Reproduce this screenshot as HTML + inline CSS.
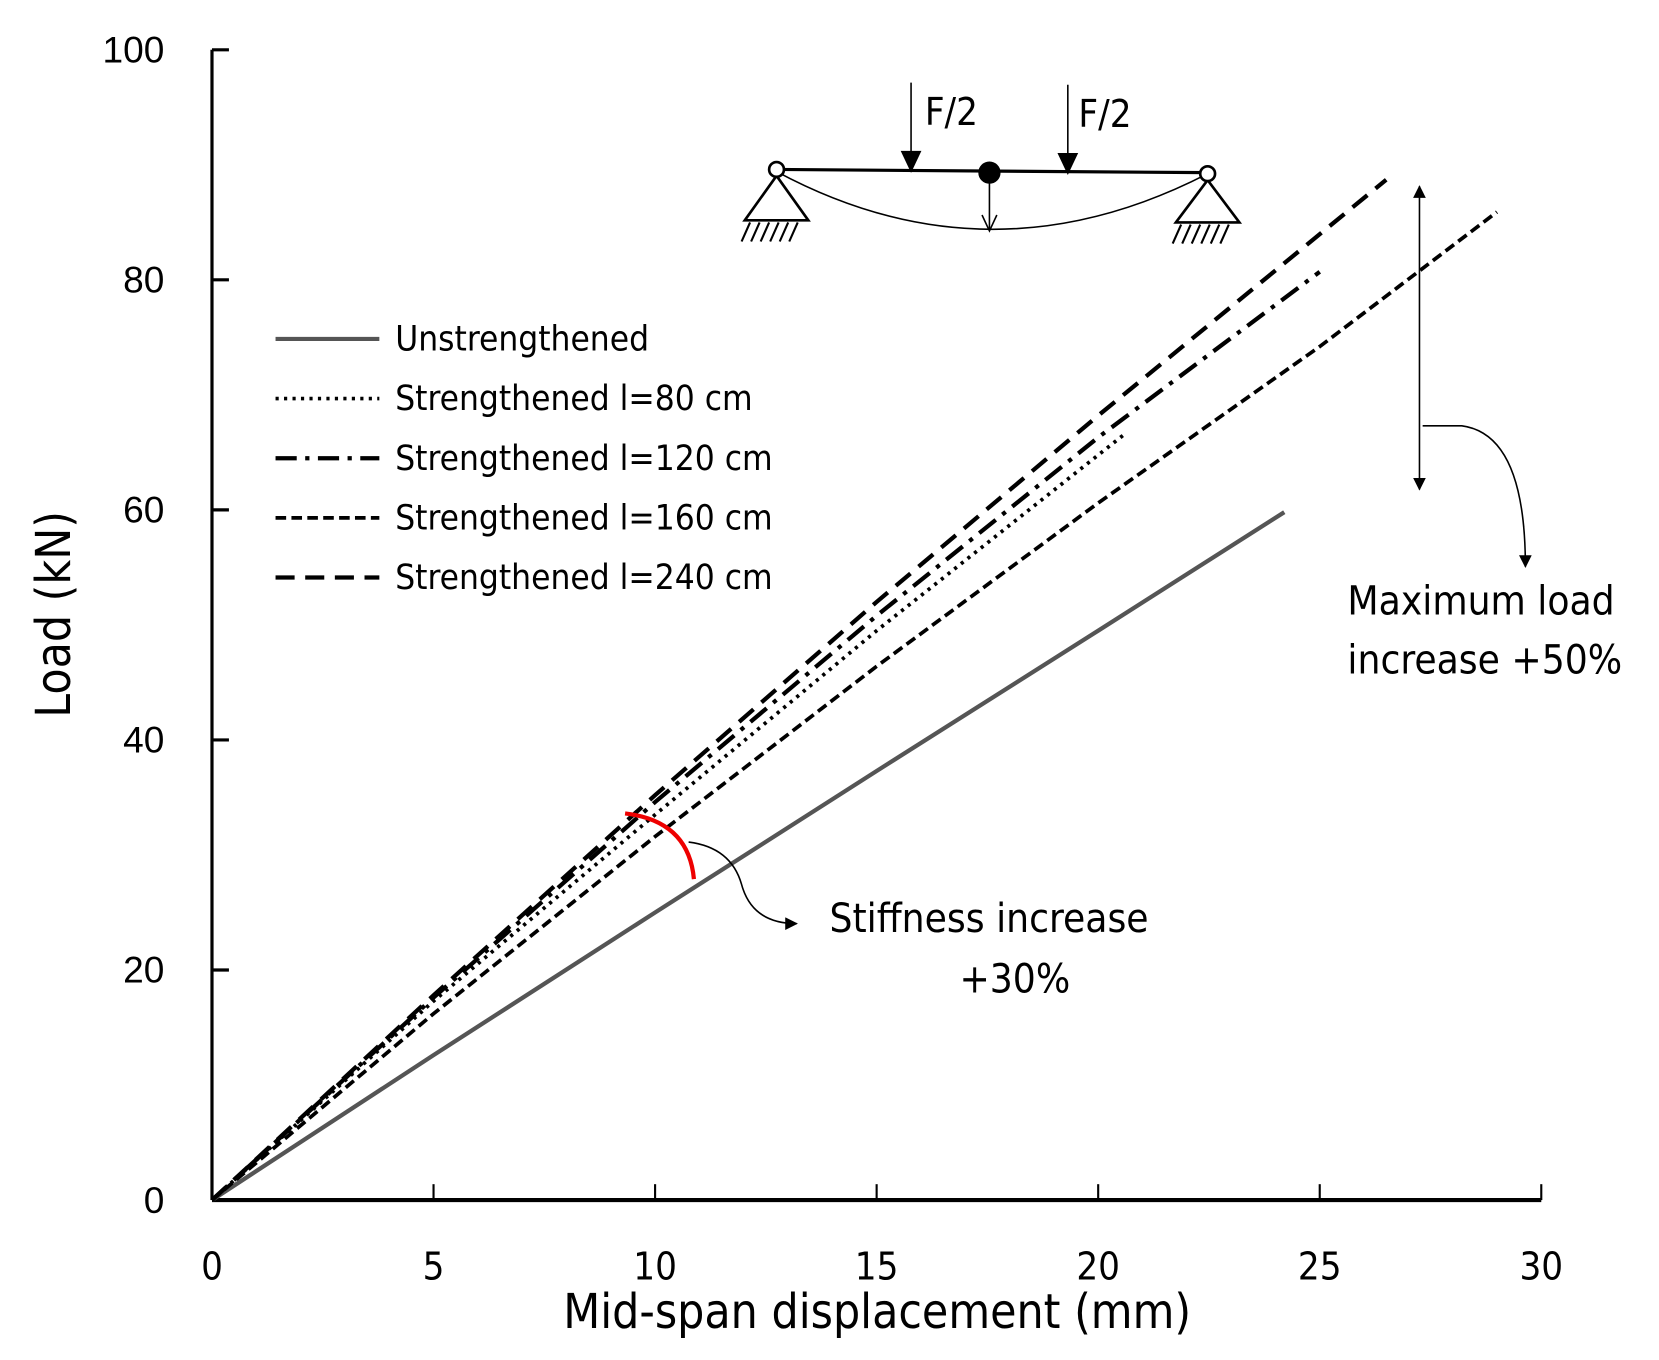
<!DOCTYPE html>
<html><head><meta charset="utf-8"><style>
html,body{margin:0;padding:0;background:#fff}
svg{display:block}
text{font-family:"DejaVu Sans Condensed","Liberation Sans Narrow","Liberation Sans",sans-serif;fill:#000}
</style></head><body>
<svg id="chart" width="1659" height="1360" viewBox="0 0 1566 1284" xmlns="http://www.w3.org/2000/svg">
<defs>
<marker id="ah" viewBox="0 0 10 10" refX="9" refY="5" markerWidth="8" markerHeight="8" orient="auto-start-reverse"><path d="M0,0 L10,5 L0,10 z" fill="#000"/></marker>
</defs>
<g id="axes"></g>
<g id="series"></g>
<g stroke="#000" fill="none">
  <line x1="733" y1="160" x2="1140" y2="163" stroke-width="3"/>
  <path d="M733,162 Q934,270 1140,164" stroke-width="1.5"/>
  <line x1="860" y1="78" x2="860" y2="150" stroke-width="1.5"/>
  <path d="M851,143 L869,143 L860,162 z" fill="#000"/>
  <line x1="1008" y1="80" x2="1008" y2="152" stroke-width="1.5"/>
  <path d="M999,145 L1017,145 L1008,164 z" fill="#000"/>
  <line x1="934" y1="165" x2="934" y2="218" stroke-width="1.5"/>
  <path d="M927,203 L934,218 L941,203" stroke-width="1.5"/>
  <circle cx="934" cy="163" r="10" fill="#000"/>
  <path d="M733,166 L703,208 L763,208 z" stroke-width="2.5" fill="#fff"/>
  <path d="M1140,170 L1110,210 L1170,210 z" stroke-width="2.5" fill="#fff"/>
  <path d="M708,210 l-8,18 M717,210 l-8,18 M726,210 l-8,18 M735,210 l-8,18 M744,210 l-8,18 M753,210 l-8,18" stroke-width="2"/>
  <path d="M1115,212 l-8,18 M1124,212 l-8,18 M1133,212 l-8,18 M1142,212 l-8,18 M1151,212 l-8,18 M1160,212 l-8,18" stroke-width="2"/>
  <circle cx="733" cy="160" r="7" fill="#fff" stroke-width="2.5"/>
  <circle cx="1140" cy="164" r="7" fill="#fff" stroke-width="2.5"/>
</g>
<text x="873" y="118" font-size="36">F/2</text>
<text x="1018" y="120" font-size="36">F/2</text>
<g stroke="#000" fill="none" stroke-width="1.5">
  <line x1="1340" y1="176" x2="1340" y2="462" marker-start="url(#ah)" marker-end="url(#ah)"/>
  <path d="M1343,402 L1380,402 Q1440,410 1440,535" marker-end="url(#ah)"/>
</g>
<text x="1272" y="580" font-size="38">Maximum load</text>
<text x="1272" y="636" font-size="38">increase +50%</text>
<path d="M590,768 Q650,775 655,830" stroke="#e00" stroke-width="4" fill="none"/>
<path d="M650,795 Q690,800 700,835 Q710,872 752,872" stroke="#000" stroke-width="1.5" fill="none" marker-end="url(#ah)"/>
<text x="783" y="880" font-size="38">Stiffness increase</text>
<text x="958" y="937" font-size="38" text-anchor="middle">+30%</text>
<g id="legend"></g>
<text x="828" y="1254" font-size="45" text-anchor="middle">Mid-span displacement (mm)</text>
<text transform="translate(66,580) rotate(-90)" font-size="45" text-anchor="middle">Load  (kN)</text>
</svg>
<script>
const xTicks=[0,5,10,15,20,25,30];
const yTicks=[0,20,40,60,80,100];
const seriesNames=["Unstrengthened","Strengthened l=80 cm","Strengthened l=120 cm","Strengthened l=160 cm","Strengthened l=240 cm"];
const unstrX=[0,5,10,15,20,24.2];
const unstrY=[0,12.6,25.0,37.3,49.5,59.8];
const s80X=[0,5,10,15,20.6];
const s80Y=[0,17.3,33.5,49.5,66.6];
const s120X=[0,5,10,15,20,25.0];
const s120Y=[0,17.6,34.6,50.8,66.3,80.7];
const s160X=[0,5,10,15,20,25,29.0];
const s160Y=[0,16.2,31.6,46.4,60.6,74.2,85.9];
const s240X=[0,5,10,15,20,26.5];
const s240Y=[0,17.8,35.2,52.0,68.2,88.7];
const X=v=>200+v*1255/30;
const Y=v=>1133-v*10.86;
const NS="http://www.w3.org/2000/svg";
function mk(tag,parent){const e=document.createElementNS(NS,tag);parent.appendChild(e);return e;}
const axes=document.getElementById('axes');
let a=mk('line',axes);


a.setAttribute('x1',X(0));a.setAttribute('x2',X(0));a.setAttribute('y1',Y(100));a.setAttribute('y2',Y(0));a.setAttribute('stroke','#000');a.setAttribute('stroke-width','3');
a=mk('line',axes);


a.setAttribute('x1',X(0));a.setAttribute('x2',X(30));a.setAttribute('y1',Y(0));a.setAttribute('y2',Y(0));a.setAttribute('stroke','#000');a.setAttribute('stroke-width','4');
yTicks.forEach(v=>{
  const t=mk('line',axes);
  
  
  t.setAttribute('x1',X(0));t.setAttribute('x2',X(0)+16);t.setAttribute('y1',Y(v));t.setAttribute('y2',Y(v));t.setAttribute('stroke','#000');t.setAttribute('stroke-width','3');
  const l=mk('text',axes);
  
  
  l.setAttribute('x',155);l.setAttribute('y',Y(v)+12);l.setAttribute('text-anchor','end');l.setAttribute('font-size','35');l.setAttribute('style','font-family:"Liberation Sans",sans-serif');
  l.textContent=v;
});
xTicks.forEach(v=>{
  const t=mk('line',axes);
  
  
  t.setAttribute('x1',X(v));t.setAttribute('x2',X(v));t.setAttribute('y1',Y(0));t.setAttribute('y2',Y(0)-15);t.setAttribute('stroke','#000');t.setAttribute('stroke-width','2');
  const l=mk('text',axes);
  
  
  l.setAttribute('x',X(v));l.setAttribute('y',1208);l.setAttribute('text-anchor','middle');l.setAttribute('font-size','36');
  l.textContent=v;
});
const styles=[
  {c:'#555',w:4,d:''},
  {c:'#000',w:3.5,d:'3,5'},
  {c:'#000',w:4,d:'20,8,4,8'},
  {c:'#000',w:3.5,d:'10,5'},
  {c:'#000',w:4,d:'18,10'}
];
const data=[[unstrX,unstrY],[s80X,s80Y],[s120X,s120Y],[s160X,s160Y],[s240X,s240Y]];
const keys=['unstrengthened','l80','l120','l160','l240'];
const sg=document.getElementById('series');
data.forEach((d,i)=>{
  const p=mk('polyline',sg);
  
  
  p.setAttribute('points',d[0].map((x,j)=>X(x)+','+Y(d[1][j])).join(' '));
  p.setAttribute('fill','none');p.setAttribute('stroke',styles[i].c);p.setAttribute('stroke-width',styles[i].w);
  if(styles[i].d)p.setAttribute('stroke-dasharray',styles[i].d);
});
const lg=document.getElementById('legend');
seriesNames.forEach((n,i)=>{
  const y=320+i*56.3;
  const l=mk('line',lg);
  
  
  l.setAttribute('x1',260);l.setAttribute('x2',358);l.setAttribute('y1',y);l.setAttribute('y2',y);
  l.setAttribute('stroke',styles[i].c);l.setAttribute('stroke-width',styles[i].w);
  if(styles[i].d)l.setAttribute('stroke-dasharray',styles[i].d);
  const t=mk('text',lg);
  
  
  t.setAttribute('x',373);t.setAttribute('y',y+11);t.setAttribute('font-size','33');
  t.textContent=n;
});
</script>
</body></html>
